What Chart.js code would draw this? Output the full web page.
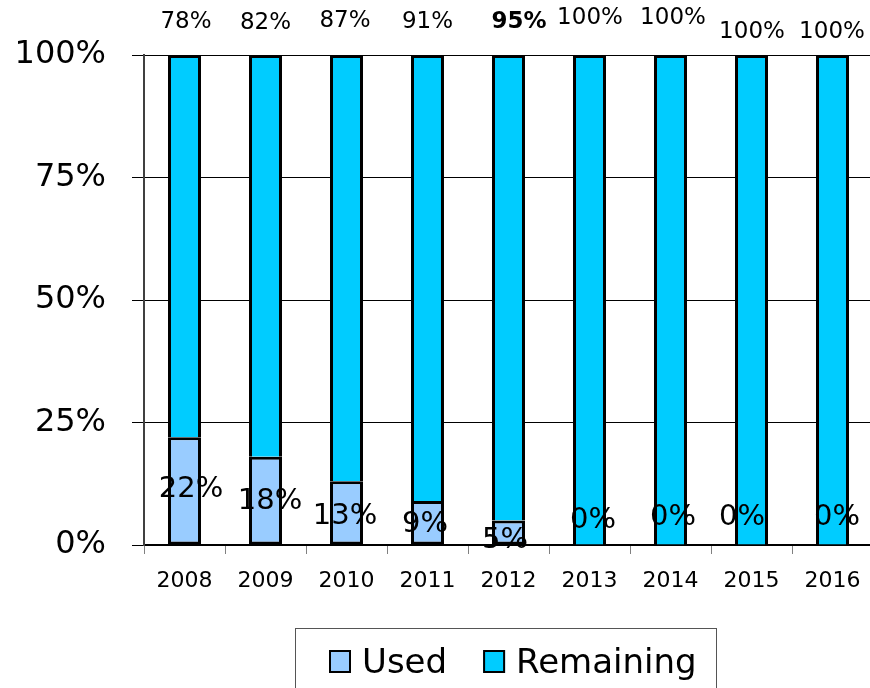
<!DOCTYPE html>
<html>
<head>
<meta charset="utf-8">
<script src="https://cdn.jsdelivr.net/npm/chart.js@4.4.1/dist/chart.umd.min.js"></script>
<style>
    html, body {
        margin: 0;
        padding: 0;
        background: #ffffff;
        overflow: hidden;
    }
    #wrap {
        width: 870px;
        height: 688px;
        overflow: hidden;
    }
</style>
</head>
<body>
<div id="wrap"><canvas id="usageChart" width="876" height="688"></canvas></div>
<script>
const years = ["2008", "2009", "2010", "2011", "2012", "2013", "2014", "2015", "2016"];
const usedPct = [22, 18, 13, 9, 5, 0, 0, 0, 0];
const remainingPct = [78, 82, 87, 91, 95, 100, 100, 100, 100];
const yTicks = [0, 25, 50, 75, 100];

// label nudges (pixels), as placed in the original
const topNudgeX = [1.5, 0, -1.5, 0, 10.5, 0.5, 2.5, 0.5, -0.5];
const topNudgeY = [-33, -32, -34, -33, -33, -37, -37, -23, -23];
const usedNudgeX = [6.5, 4.5, -1.5, -2.5, -3.5, 3.5, 2.5, -9.5, 4.5];
const usedNudgeY = [-1, 1, 4, 2, 8, -25, -28, -28, -28];
const boldTopIndex = 4;

const FONT = "'DejaVu Sans', sans-serif";

const barLabels = {
    id: "barLabels",
    afterDatasetsDraw(chart) {
        const ctx = chart.ctx;
        const area = chart.chartArea;
        const usedMeta = chart.getDatasetMeta(0);
        const remMeta = chart.getDatasetMeta(1);
        ctx.save();
        ctx.fillStyle = "#000000";
        ctx.textAlign = "center";
        ctx.textBaseline = "middle";

        remainingPct.forEach((v, i) => {
            const bar = remMeta.data[i];
            ctx.font = (i === boldTopIndex ? "bold " : "") + "23px " + FONT;
            ctx.fillText(v + "%", bar.x + topNudgeX[i], area.top + topNudgeY[i]);
        });

        ctx.font = "29px " + FONT;
        usedPct.forEach((v, i) => {
            const bar = usedMeta.data[i];
            const cy = (bar.y + bar.base) / 2;
            ctx.fillText(v + "%", bar.x + usedNudgeX[i], cy + usedNudgeY[i]);
        });
        ctx.restore();
    }
};

const boxedLegend = {
    id: "boxedLegend",
    afterDraw(chart) {
        const ctx = chart.ctx;
        ctx.save();
        ctx.strokeStyle = "#555555";
        ctx.lineWidth = 1;
        ctx.strokeRect(295.5, 628.5, 421, 80);

        ctx.font = "34px " + FONT;
        ctx.textBaseline = "alphabetic";
        ctx.textAlign = "left";
        let x = 329;
        chart.data.datasets.forEach(ds => {
            ctx.fillStyle = ds.backgroundColor;
            ctx.fillRect(x, 650, 22, 23);
            ctx.strokeStyle = "#000000";
            ctx.lineWidth = 2;
            ctx.strokeRect(x + 1, 651, 20, 21);
            x += 33;
            ctx.fillStyle = "#000000";
            ctx.fillText(ds.label, x, 673);
            x += ctx.measureText(ds.label).width + 36;
        });
        ctx.restore();
    }
};

new Chart(document.getElementById("usageChart"), {
    type: "bar",
    data: {
        labels: years,
        datasets: [{
            label: "Used",
            data: usedPct,
            backgroundColor: "#99ccff",
            borderColor: "#000000",
            borderWidth: 3,
            borderSkipped: false,
            inflateAmount: 0
        }, {
            label: "Remaining",
            data: remainingPct,
            backgroundColor: "#00ccff",
            borderColor: "#000000",
            borderWidth: 3,
            borderSkipped: "start",
            inflateAmount: 0
        }]
    },
    options: {
        responsive: false,
        animation: false,
        devicePixelRatio: 1,
        layout: {
            padding: { top: 55, right: 3, left: 0, bottom: 0 }
        },
        datasets: {
            bar: {
                categoryPercentage: 1,
                barPercentage: 33 / 81
            }
        },
        plugins: {
            legend: { display: false },
            tooltip: { enabled: false }
        },
        scales: {
            x: {
                stacked: true,
                afterFit(scale) {
                    scale.height = 143;
                },
                grid: {
                    drawOnChartArea: false,
                    drawTicks: true,
                    tickLength: 9,
                    color: "#808080"
                },
                border: {
                    color: "#000000",
                    width: 2
                },
                ticks: {
                    color: "#000000",
                    padding: 14,
                    font: { family: FONT, size: 22 }
                }
            },
            y: {
                stacked: true,
                min: 0,
                max: 100,
                afterFit(scale) {
                    scale.width = 144;
                },
                afterBuildTicks(scale) {
                    scale.ticks = yTicks.map(v => ({ value: v }));
                },
                grid: {
                    color: "#000000",
                    lineWidth: 1,
                    tickLength: 12
                },
                border: {
                    color: "#404040",
                    width: 2
                },
                ticks: {
                    color: "#000000",
                    padding: 26,
                    font: { family: FONT, size: 32 },
                    callback: v => v + "%"
                }
            }
        }
    },
    plugins: [barLabels, boxedLegend]
});
</script>
</body>
</html>
